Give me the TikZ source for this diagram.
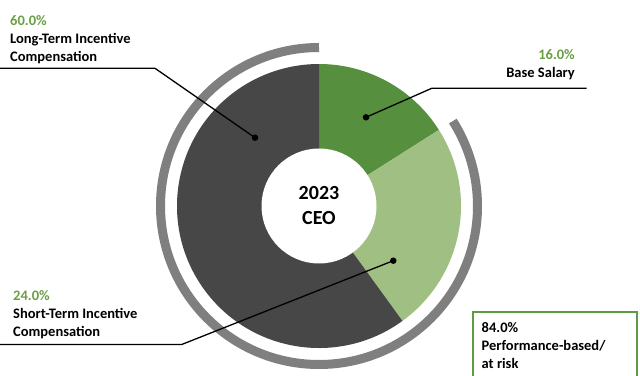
\documentclass[tikz,border=0pt]{standalone}
\usepackage{fontspec}
\setmainfont{Carlito}
\usetikzlibrary{calc}
\definecolor{ltigray}{HTML}{474747}
\definecolor{basegreen}{HTML}{568F3D}
\definecolor{stigreen}{HTML}{A0BF82}
\definecolor{arcgray}{HTML}{7F7F7F}
\definecolor{pctgreen}{HTML}{6A9F45}
\definecolor{boxgreen}{HTML}{5E9B44}
\begin{document}
\begin{tikzpicture}[x=1pt,y=1pt,
  lbl/.style={font=\bfseries\fontsize{14.5}{18}\selectfont, inner sep=0pt, align=left},
  leader/.style={line width=1.3pt, black},
  dot/.style={circle, fill=black, inner sep=0pt, minimum size=6.5pt}]
\useasboundingbox (0,0) rectangle (640,375);
\clip (0,0) rectangle (640,375);
\fill[white] (0,0) rectangle (640,375);
\coordinate (C) at (319,169);
% pie sectors
\fill[basegreen] (C) -- ++(90:142) arc[start angle=90,end angle=32.4,radius=142] -- cycle;
\fill[stigreen] (C) -- ++(32.4:142) arc[start angle=32.4,end angle=-54,radius=142] -- cycle;
\fill[ltigray] (C) -- ++(-54:142) arc[start angle=-54,end angle=-270,radius=142] -- cycle;
% outer arc (performance-based)
\draw[arcgray, line width=9pt] ($(C)+(90:158.5)$) arc[start angle=90,end angle=392.4,radius=158.5];
% hole
\node[circle, fill=white, minimum size=115pt, inner sep=0pt, align=center,
      font=\bfseries\fontsize{20}{25}\selectfont] (hole) at (C) {2023\\CEO};
% leaders
\node[dot] (ltidot) at (255,237.3) {};
\node[dot] (basedot) at (366,257.7) {};
\node[dot] (stidot) at (393.3,114.3) {};
\coordinate (lticorner) at (155,306.7);
\coordinate (ltiend) at (0,306.7);
\coordinate (basecorner) at (431.7,286.7);
\coordinate (baseend) at (586.7,286.7);
\coordinate (sticorner) at (181.7,30.5);
\coordinate (stiend) at (0,30.5);
\draw[leader] (ltiend) -- (lticorner) -- (ltidot.center);
\draw[leader] (baseend) -- (basecorner) -- (basedot.center);
\draw[leader] (stiend) -- (sticorner) -- (stidot.center);
% labels
\node[lbl, anchor=south west] (ltilabel) at (10,311) {\textcolor{pctgreen}{60.0\%}\\Long-Term Incentive\\Compensation};
\node[lbl, align=right, anchor=south east] (baselabel) at (575,295.3) {\textcolor{pctgreen}{16.0\%}\\Base Salary};
\node[lbl, anchor=south west] (stilabel) at (13,36.3) {\textcolor{pctgreen}{24.0\%}\\Short-Term Incentive\\Compensation};
% performance box
\draw[boxgreen, line width=2pt] (473.3,-10) rectangle (637,63.3);
\node[lbl, anchor=north west] (perflabel) at (481.5,53.2) {84.0\%\\Performance-based/\\at risk};
\end{tikzpicture}
\end{document}
